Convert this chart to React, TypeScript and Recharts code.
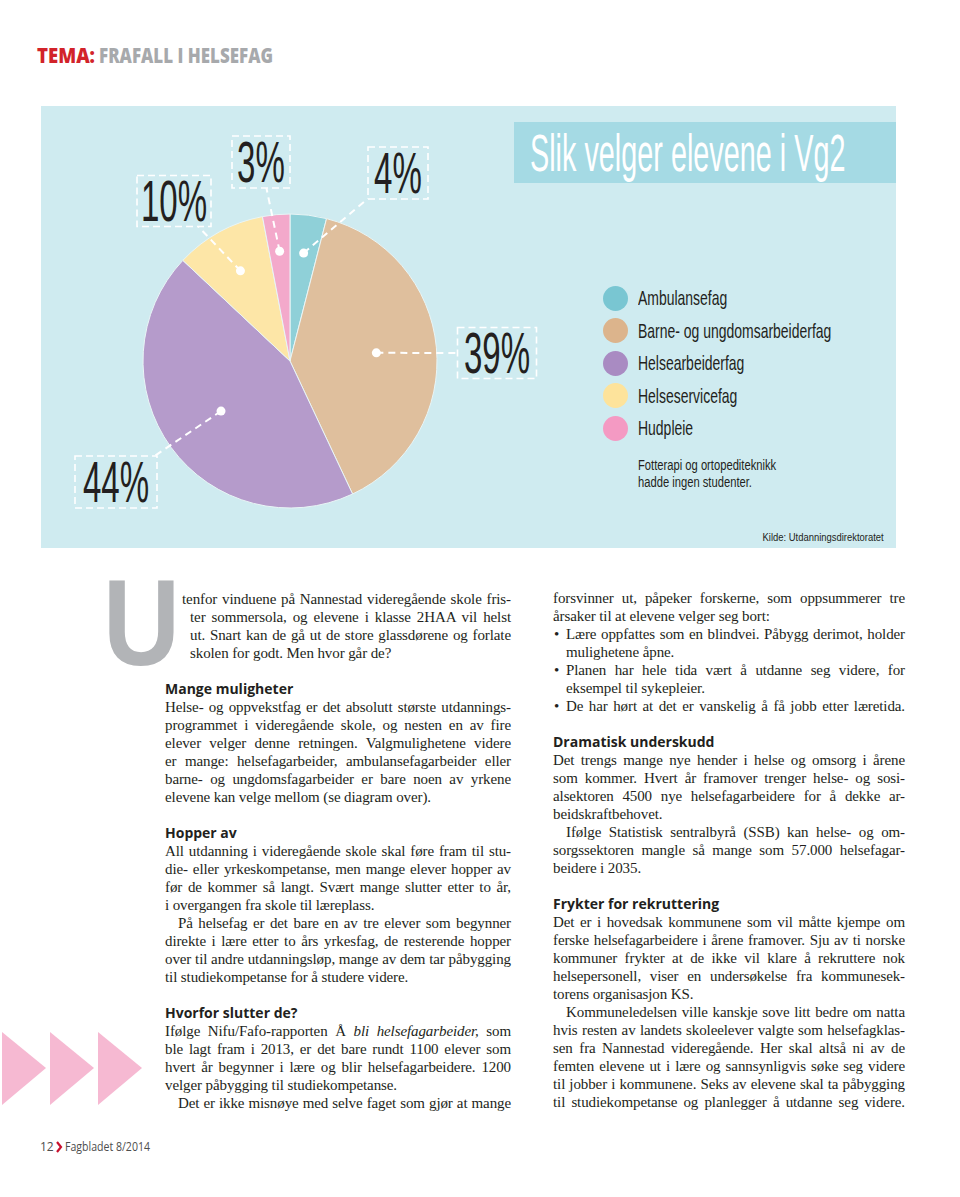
import React from 'react';
import { PieChart, Pie, Cell, Legend } from 'recharts';

// ---------- chart data ----------
const categories = [
  'Ambulansefag',
  'Barne- og ungdomsarbeiderfag',
  'Helsearbeiderfag',
  'Helseservicefag',
  'Hudpleie',
];
const shares = [4, 39, 44, 10, 3];
const chartTitle = 'Slik velger elevene i Vg2';
const noteLines = ['Fotterapi og ortopediteknikk', 'hadde ingen studenter.'];
const sourceText = 'Kilde: Utdanningsdirektoratet';

// ---------- styles ----------
const pieColors = ['#8fd0d8', '#dfbf9d', '#b59bcb', '#fde6a7', '#f3a9cb'];
const legendColors = ['#79c6d2', '#dcb48c', '#a98bc2', '#fde39b', '#f49ac3'];
const PANEL_BG = '#cfebf0';
const TITLE_BG = '#a5dae4';
const INK = '#231f20';
const NARROW = '"Liberation Sans", Arial, sans-serif';
const SERIF = '"Liberation Serif", "Times New Roman", serif';
const SANS_BOLD = '"Open Sans", "Liberation Sans", sans-serif';

// label layout (box offset from pie centre, dot radius as fraction of radius)
const LABEL_LAYOUT = [
  { dot: 0.74, dx: 108, dy: -188, w: 60, h: 52 },
  { dot: 0.59, dx: 207, dy: -8, w: 79, h: 51 },
  { dot: 0.58, dx: -174, dy: 121, w: 82, h: 52 },
  { dot: 0.7, dx: -116, dy: -160, w: 74, h: 51 },
  { dot: 0.75, dx: -29, dy: -199, w: 58, h: 52 },
];

const data = categories.map((name, i) => ({ name, value: shares[i] }));
const RAD = Math.PI / 180;

function renderLabel(props: any) {
  const { cx, cy, midAngle, outerRadius, index, value } = props;
  const L = LABEL_LAYOUT[index];
  const r = outerRadius * L.dot;
  const px = cx + r * Math.cos(-midAngle * RAD);
  const py = cy + r * Math.sin(-midAngle * RAD);
  const bx = cx + L.dx;
  const by = cy + L.dy;
  const vx = px - bx;
  const vy = py - by;
  const tx = vx !== 0 ? L.w / 2 / Math.abs(vx) : Infinity;
  const ty = vy !== 0 ? L.h / 2 / Math.abs(vy) : Infinity;
  const t = Math.min(tx, ty);
  const ex = bx + vx * t;
  const ey = by + vy * t;
  return (
    <g key={`lab-${index}`}>
      <line x1={px} y1={py} x2={ex} y2={ey} stroke="#fff" strokeWidth={2} strokeDasharray="7 5" />
      <circle cx={px} cy={py} r={4.5} fill="#fff" />
      <rect
        x={bx - L.w / 2}
        y={by - L.h / 2}
        width={L.w}
        height={L.h}
        fill="none"
        stroke="#fff"
        strokeWidth={1.6}
        strokeDasharray="7 4"
      />
      <text
        transform={`translate(${bx},${by + 20}) scale(0.57,1)`}
        textAnchor="middle"
        fontSize={58}
        fontFamily={NARROW}
        fill={INK}
      >
        {value}%
      </text>
    </g>
  );
}

function renderLegend(props: any) {
  const payload = props && props.payload && props.payload.length ? props.payload : null;
  const names: string[] = payload ? payload.map((p: any) => p.value) : categories;
  return (
    <div style={{ fontFamily: NARROW, color: INK }}>
      {names.map((name, i) => (
        <div key={name} style={{ height: 32.5, display: 'flex', alignItems: 'center' }}>
          <span
            style={{
              width: 25,
              height: 25,
              borderRadius: '50%',
              background: legendColors[categories.indexOf(name) >= 0 ? categories.indexOf(name) : i],
              flex: 'none',
              display: 'inline-block',
            }}
          />
          <span
            style={{
              marginLeft: 10.5,
              fontSize: 21,
              display: 'inline-block',
              transform: 'scaleX(0.665)',
              transformOrigin: 'left center',
              whiteSpace: 'nowrap',
            }}
          >
            {name}
          </span>
        </div>
      ))}
      <div style={{ marginTop: 13, marginLeft: 35.5, fontSize: 14, lineHeight: '17px' }}>
        {noteLines.map((l) => (
          <div key={l} style={{ whiteSpace: 'nowrap' }}>
            <span style={{ display: 'inline-block', transform: 'scaleX(0.8)', transformOrigin: 'left center' }}>{l}</span>
          </div>
        ))}
      </div>
    </div>
  );
}

// ---------- article text ----------
type Entry = {
  k: 'p' | 'h' | 'gap';
  t?: React.ReactNode;
  x?: number;
  last?: boolean;
  indent?: boolean;
  bullet?: boolean;
  hang?: boolean;
};

const LEFT: Entry[] = [
  { k: 'p', t: 'tenfor vinduene på Nannestad videregående skole fris-', x: 182 },
  { k: 'p', t: 'ter sommersola, og elevene i klasse 2HAA vil helst', x: 190 },
  { k: 'p', t: 'ut. Snart kan de gå ut de store glassdørene og forlate', x: 190 },
  { k: 'p', t: 'skolen for godt. Men hvor går de?', x: 190, last: true },
  { k: 'gap' },
  { k: 'h', t: 'Mange muligheter' },
  { k: 'p', t: 'Helse- og oppvekstfag er det absolutt største utdannings-' },
  { k: 'p', t: 'programmet i videregående skole, og nesten en av fire' },
  { k: 'p', t: 'elever velger denne retningen. Valgmulighetene videre' },
  { k: 'p', t: 'er mange: helsefagarbeider, ambulansefagarbeider eller' },
  { k: 'p', t: 'barne- og ungdomsfagarbeider er bare noen av yrkene' },
  { k: 'p', t: 'elevene kan velge mellom (se diagram over).', last: true },
  { k: 'gap' },
  { k: 'h', t: 'Hopper av' },
  { k: 'p', t: 'All utdanning i videregående skole skal føre fram til stu-' },
  { k: 'p', t: 'die- eller yrkeskompetanse, men mange elever hopper av' },
  { k: 'p', t: 'før de kommer så langt. Svært mange slutter etter to år,' },
  { k: 'p', t: 'i overgangen fra skole til læreplass.', last: true },
  { k: 'p', t: 'På helsefag er det bare en av tre elever som begynner', indent: true },
  { k: 'p', t: 'direkte i lære etter to års yrkesfag, de resterende hopper' },
  { k: 'p', t: 'over til andre utdanningsløp, mange av dem tar påbygging' },
  { k: 'p', t: 'til studiekompetanse for å studere videre.', last: true },
  { k: 'gap' },
  { k: 'h', t: 'Hvorfor slutter de?' },
  {
    k: 'p',
    t: (
      <>
        Ifølge Nifu/Fafo-rapporten Å <i>bli helsefagarbeider,</i> som
      </>
    ),
  },
  { k: 'p', t: 'ble lagt fram i 2013, er det bare rundt 1100 elever som' },
  { k: 'p', t: 'hvert år begynner i lære og blir helsefagarbeidere. 1200' },
  { k: 'p', t: 'velger påbygging til studiekompetanse.', last: true },
  { k: 'p', t: 'Det er ikke misnøye med selve faget som gjør at mange', indent: true },
];

const RIGHT: Entry[] = [
  { k: 'p', t: 'forsvinner ut, påpeker forskerne, som oppsummerer tre' },
  { k: 'p', t: 'årsaker til at elevene velger seg bort:', last: true },
  { k: 'p', t: 'Lære oppfattes som en blindvei. Påbygg derimot, holder', bullet: true },
  { k: 'p', t: 'mulighetene åpne.', hang: true, last: true },
  { k: 'p', t: 'Planen har hele tida vært å utdanne seg videre, for', bullet: true },
  { k: 'p', t: 'eksempel til sykepleier.', hang: true, last: true },
  { k: 'p', t: 'De har hørt at det er vanskelig å få jobb etter læretida.', bullet: true },
  { k: 'gap' },
  { k: 'h', t: 'Dramatisk underskudd' },
  { k: 'p', t: 'Det trengs mange nye hender i helse og omsorg i årene' },
  { k: 'p', t: 'som kommer. Hvert år framover trenger helse- og sosi-' },
  { k: 'p', t: 'alsektoren 4500 nye helsefagarbeidere for å dekke ar-' },
  { k: 'p', t: 'beidskraftbehovet.', last: true },
  { k: 'p', t: 'Ifølge Statistisk sentralbyrå (SSB) kan helse- og om-', indent: true },
  { k: 'p', t: 'sorgssektoren mangle så mange som 57.000 helsefagar-' },
  { k: 'p', t: 'beidere i 2035.', last: true },
  { k: 'gap' },
  { k: 'h', t: 'Frykter for rekruttering' },
  { k: 'p', t: 'Det er i hovedsak kommunene som vil måtte kjempe om' },
  { k: 'p', t: 'ferske helsefagarbeidere i årene framover. Sju av ti norske' },
  { k: 'p', t: 'kommuner frykter at de ikke vil klare å rekruttere nok' },
  { k: 'p', t: 'helsepersonell, viser en undersøkelse fra kommunesek-' },
  { k: 'p', t: 'torens organisasjon KS.', last: true },
  { k: 'p', t: 'Kommuneledelsen ville kanskje sove litt bedre om natta', indent: true },
  { k: 'p', t: 'hvis resten av landets skoleelever valgte som helsefagklas-' },
  { k: 'p', t: 'sen fra Nannestad videregående. Her skal altså ni av de' },
  { k: 'p', t: 'femten elevene ut i lære og sannsynligvis søke seg videre' },
  { k: 'p', t: 'til jobber i kommunene. Seks av elevene skal ta påbygging' },
  { k: 'p', t: 'til studiekompetanse og planlegger å utdanne seg videre.' },
];

const LINE_H = 18;

function Column({ entries, left, right, startY }: { entries: Entry[]; left: number; right: number; startY: number }) {
  return (
    <>
      {entries.map((e, i) => {
        const y = startY + i * LINE_H;
        if (e.k === 'gap') return null;
        if (e.k === 'h') {
          return (
            <div
              key={i}
              style={{
                position: 'absolute',
                left,
                top: y - 10,
                height: 20,
                lineHeight: '20px',
                fontFamily: SANS_BOLD,
                fontWeight: 700,
                fontSize: 14,
                color: INK,
                whiteSpace: 'nowrap',
              }}
            >
              {e.t}
            </div>
          );
        }
        let x = e.x ?? left;
        if (e.indent) x = left + 13;
        if (e.bullet || e.hang) x = left + 13;
        return (
          <React.Fragment key={i}>
            {e.bullet && (
              <div
                style={{
                  position: 'absolute',
                  left: left + 1,
                  top: y - 9,
                  height: LINE_H,
                  lineHeight: `${LINE_H}px`,
                  fontFamily: SERIF,
                  fontSize: 15,
                  color: INK,
                }}
              >
                •
              </div>
            )}
            <div
              style={{
                position: 'absolute',
                left: x,
                top: y - 9,
                width: right - x,
                height: LINE_H,
                lineHeight: `${LINE_H}px`,
                fontFamily: SERIF,
                fontSize: 15,
                letterSpacing: -0.1,
                color: INK,
                whiteSpace: 'nowrap',
                textAlign: e.last ? 'left' : 'justify',
                textAlignLast: e.last ? 'left' : 'justify',
              }}
            >
              {e.t}
            </div>
          </React.Fragment>
        );
      })}
    </>
  );
}

export default function App() {
  return (
    <div
      style={{
        position: 'absolute',
        left: 0,
        top: 0,
        width: 960,
        height: 1197,
        background: '#fff',
        overflow: 'hidden',
      }}
    >
      {/* decorative page elements */}
      <svg width={960} height={1197} style={{ position: 'absolute', left: 0, top: 0 }}>
        <text x={37} y={63} fontFamily={SANS_BOLD} fontWeight={800} fontSize={21} fill="#d2232a" textLength={58} lengthAdjust="spacingAndGlyphs">
          TEMA:
        </text>
        <text x={99} y={63} fontFamily={SANS_BOLD} fontWeight={800} fontSize={21} fill="#a7a9ac" textLength={174} lengthAdjust="spacingAndGlyphs">
          FRAFALL I HELSEFAG
        </text>
        <text x={103} y={665} fontFamily='"Liberation Sans", sans-serif' fontWeight={700} fontSize={123} fill="#b2b4b7" textLength={77} lengthAdjust="spacingAndGlyphs">
          U
        </text>
        <polygon points="2,1032 46,1068 2,1105" fill="#f6b9d2" />
        <polygon points="50,1032 94,1068 50,1105" fill="#f6b9d2" />
        <polygon points="98,1032 142,1068 98,1105" fill="#f6b9d2" />
        <text x={40} y={1151} fontFamily={SANS_BOLD} fontSize={12} fill="#4d4d4d">12</text>
        <polyline points="57,1142 61,1147 57,1152" fill="none" stroke="#c8102e" strokeWidth={2.2} />
        <text x={65} y={1151} fontFamily={SANS_BOLD} fontSize={12} fill="#4d4d4d" textLength={85} lengthAdjust="spacingAndGlyphs">
          Fagbladet 8/2014
        </text>
      </svg>

      {/* chart panel */}
      <div style={{ position: 'absolute', left: 41, top: 106, width: 855, height: 442, background: PANEL_BG }}>
        <div style={{ position: 'absolute', left: 473, top: 16, width: 382, height: 61, background: TITLE_BG, overflow: 'hidden' }}>
          <svg width={382} height={61}>
            <text transform="translate(16,49) scale(0.565,1)" fontFamily={NARROW} fontSize={51} fill="#fff">
              {chartTitle}
            </text>
          </svg>
        </div>
        <div style={{ position: 'absolute', left: 0, top: 0 }}>
          <PieChart width={855} height={442} margin={{ top: 0, right: 0, bottom: 0, left: 0 }}>
            <Pie
              data={data}
              dataKey="value"
              nameKey="name"
              cx={249}
              cy={255}
              outerRadius={147}
              startAngle={90}
              endAngle={-270}
              stroke="#e9f5f6"
              strokeWidth={1}
              label={renderLabel}
              labelLine={false}
              isAnimationActive={false}
            >
              {data.map((d, i) => (
                <Cell key={d.name} fill={pieColors[i]} />
              ))}
            </Pie>
            <Legend
              layout="vertical"
              content={renderLegend}
              wrapperStyle={{ left: 561.5, top: 175.75, width: 290 }}
            />
          </PieChart>
        </div>
        <div
          style={{
            position: 'absolute',
            right: 12,
            top: 424,
            fontFamily: NARROW,
            fontSize: 11.5,
            lineHeight: '14px',
            color: INK,
            whiteSpace: 'nowrap',
            transform: 'scaleX(0.82)',
            transformOrigin: 'right center',
          }}
        >
          {sourceText}
        </div>
      </div>

      {/* article */}
      <Column entries={LEFT} left={165} right={511} startY={599} />
      <Column entries={RIGHT} left={553} right={905} startY={598} />
    </div>
  );
}
